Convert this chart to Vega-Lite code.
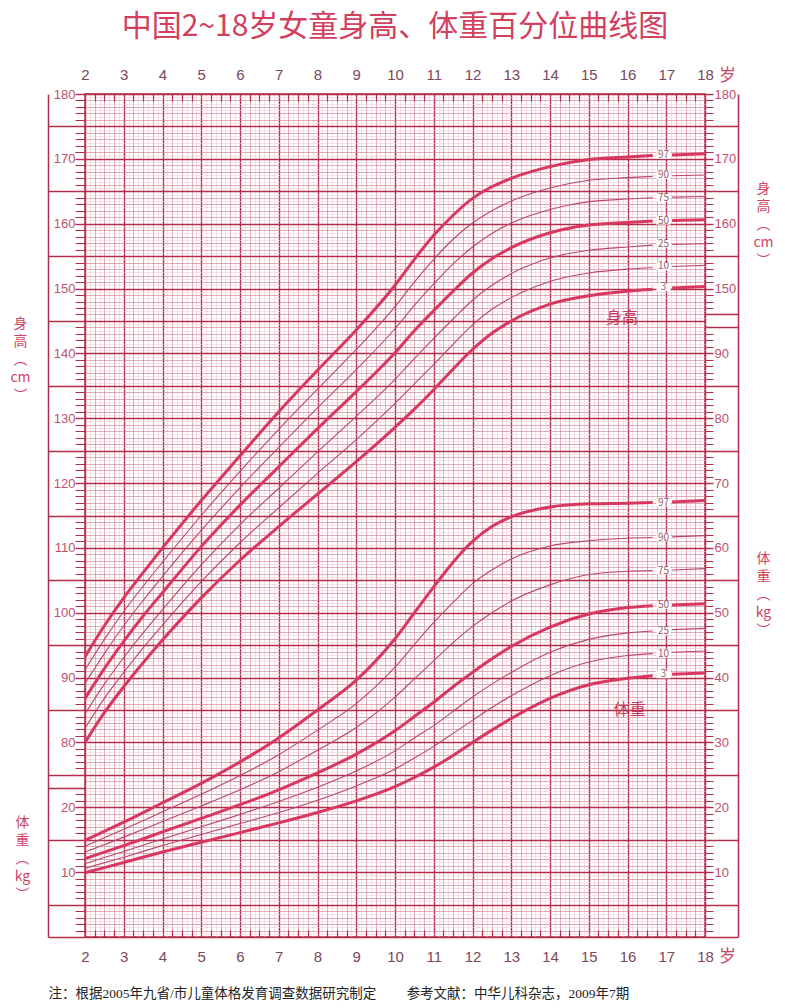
{
"$schema": "https://vega.github.io/schema/vega-lite/v6.json",
"width": 620, "height": 843,
"autosize": "none",
"padding": {"left": 85, "top": 94, "right": 80, "bottom": 71},
"background": "white",
"config": {"view": {"stroke": "#b42c4c", "strokeWidth": 1.5}, "axis": {"labelFont": "Liberation Sans", "titleFont": "Noto Sans CJK SC", "titleFontWeight": "normal"}},
"title": {"text": "中国2~18岁女童身高、体重百分位曲线图", "fontSize": 30, "font": "Noto Sans CJK SC", "fontWeight": "normal", "color": "#d2405e", "anchor": "middle", "frame": "group", "offset": 24},
"datasets": {
"hcurves": [
{"age":2,"seg":"a","P3":80.0,"P10":82.2,"P25":84.4,"P50":86.8,"P75":89.1,"P90":91.2,"P97":93.2},
{"age":2.5,"seg":"a","P3":84.6,"P10":86.8,"P25":89.0,"P50":91.4,"P75":93.7,"P90":95.9,"P97":98.0},
{"age":3,"seg":"a","P3":88.6,"P10":90.8,"P25":93.1,"P50":95.6,"P75":98.0,"P90":100.2,"P97":102.3},
{"age":3.5,"seg":"a","P3":92.3,"P10":94.6,"P25":96.9,"P50":99.5,"P75":101.9,"P90":104.1,"P97":106.2},
{"age":4,"seg":"a","P3":95.8,"P10":98.1,"P25":100.5,"P50":103.1,"P75":105.6,"P90":107.8,"P97":110.0},
{"age":5,"seg":"a","P3":102.3,"P10":104.8,"P25":107.4,"P50":110.2,"P75":112.7,"P90":115.0,"P97":117.3},
{"age":6,"seg":"a","P3":108.1,"P10":110.8,"P25":113.6,"P50":116.6,"P75":119.3,"P90":121.8,"P97":124.2},
{"age":7,"seg":"a","P3":113.3,"P10":116.2,"P25":119.2,"P50":122.5,"P75":125.5,"P90":128.3,"P97":131.0},
{"age":8,"seg":"a","P3":118.3,"P10":121.5,"P25":124.8,"P50":128.4,"P75":131.6,"P90":134.5,"P97":137.4},
{"age":9,"seg":"a","P3":123.3,"P10":126.7,"P25":130.3,"P50":134.1,"P75":137.5,"P90":140.6,"P97":143.6},
{"age":10,"seg":"a","P3":128.6,"P10":132.3,"P25":136.0,"P50":140.1,"P75":143.8,"P90":147.2,"P97":150.5},
{"age":10.5,"seg":"a","P3":131.4,"P10":135.3,"P25":139.2,"P50":143.5,"P75":147.4,"P90":151.0,"P97":154.5},
{"age":11,"seg":"a","P3":134.4,"P10":138.3,"P25":142.3,"P50":146.6,"P75":150.7,"P90":154.5,"P97":158.2},
{"age":11.5,"seg":"a","P3":137.6,"P10":141.4,"P25":145.3,"P50":149.6,"P75":153.8,"P90":157.6,"P97":161.3},
{"age":12,"seg":"a","P3":140.6,"P10":144.4,"P25":148.2,"P50":152.4,"P75":156.4,"P90":160.1,"P97":163.9},
{"age":12.5,"seg":"a","P3":143.1,"P10":146.8,"P25":150.5,"P50":154.6,"P75":158.5,"P90":162.0,"P97":165.7},
{"age":13,"seg":"a","P3":145.0,"P10":148.6,"P25":152.3,"P50":156.3,"P75":160.1,"P90":163.5,"P97":167.0},
{"age":14,"seg":"a","P3":147.6,"P10":151.1,"P25":154.7,"P50":158.6,"P75":162.2,"P90":165.5,"P97":168.8},
{"age":15,"seg":"a","P3":148.9,"P10":152.4,"P25":155.9,"P50":159.8,"P75":163.4,"P90":166.7,"P97":169.9},
{"age":16,"seg":"a","P3":149.6,"P10":153.0,"P25":156.4,"P50":160.2,"P75":163.8,"P90":167.1,"P97":170.3},
{"age":16.65,"seg":"a","P3":149.9,"P10":153.2,"P25":156.7,"P50":160.4,"P75":164.0,"P90":167.3,"P97":170.5},
{"age":17.15,"seg":"b","P3":150.1,"P10":153.4,"P25":156.8,"P50":160.5,"P75":164.1,"P90":167.4,"P97":170.6},
{"age":18,"seg":"b","P3":150.3,"P10":153.6,"P25":156.9,"P50":160.6,"P75":164.2,"P90":167.5,"P97":170.8}
],
"wcurves": [
{"age":2,"seg":"a","P3":9.9,"P10":10.6,"P25":11.3,"P50":12.1,"P75":13.1,"P90":14.0,"P97":14.9},
{"age":3,"seg":"a","P3":11.5,"P10":12.3,"P25":13.2,"P50":14.1,"P75":15.4,"P90":16.6,"P97":17.7},
{"age":4,"seg":"a","P3":13.1,"P10":14.1,"P25":15.1,"P50":16.2,"P75":17.8,"P90":19.3,"P97":20.7},
{"age":5,"seg":"a","P3":14.6,"P10":15.8,"P25":17.0,"P50":18.3,"P75":20.2,"P90":22.0,"P97":23.7},
{"age":6,"seg":"a","P3":16.1,"P10":17.5,"P25":18.9,"P50":20.4,"P75":22.7,"P90":24.9,"P97":27.0},
{"age":7,"seg":"a","P3":17.6,"P10":19.2,"P25":20.9,"P50":22.7,"P75":25.5,"P90":28.1,"P97":30.7},
{"age":8,"seg":"a","P3":19.2,"P10":21.1,"P25":23.1,"P50":25.3,"P75":28.8,"P90":31.9,"P97":35.0},
{"age":9,"seg":"a","P3":21.0,"P10":23.3,"P25":25.6,"P50":28.2,"P75":32.3,"P90":36.0,"P97":39.6},
{"age":10,"seg":"a","P3":23.2,"P10":25.9,"P25":28.7,"P50":31.8,"P75":37.0,"P90":41.6,"P97":46.0},
{"age":10.5,"seg":"a","P3":24.6,"P10":27.6,"P25":30.7,"P50":34.0,"P75":39.8,"P90":45.1,"P97":50.0},
{"age":11,"seg":"a","P3":26.2,"P10":29.4,"P25":32.6,"P50":36.2,"P75":42.6,"P90":48.5,"P97":54.0},
{"age":11.5,"seg":"a","P3":28.0,"P10":31.4,"P25":34.8,"P50":38.6,"P75":45.4,"P90":51.6,"P97":57.8},
{"age":12,"seg":"a","P3":30.0,"P10":33.4,"P25":37.0,"P50":40.8,"P75":47.9,"P90":54.5,"P97":61.0},
{"age":12.5,"seg":"a","P3":31.9,"P10":35.4,"P25":39.0,"P50":42.9,"P75":50.0,"P90":56.6,"P97":63.3},
{"age":13,"seg":"a","P3":33.7,"P10":37.2,"P25":40.8,"P50":44.8,"P75":51.8,"P90":58.3,"P97":64.8},
{"age":14,"seg":"a","P3":36.8,"P10":40.3,"P25":43.9,"P50":47.8,"P75":54.3,"P90":60.3,"P97":66.3},
{"age":15,"seg":"a","P3":38.9,"P10":42.4,"P25":45.9,"P50":49.8,"P75":55.9,"P90":61.1,"P97":66.8},
{"age":16,"seg":"a","P3":39.9,"P10":43.4,"P25":46.9,"P50":50.8,"P75":56.4,"P90":61.5,"P97":66.9},
{"age":16.65,"seg":"a","P3":40.3,"P10":43.7,"P25":47.2,"P50":51.1,"P75":56.5,"P90":61.6,"P97":67.0},
{"age":17.15,"seg":"b","P3":40.5,"P10":43.9,"P25":47.4,"P50":51.2,"P75":56.6,"P90":61.7,"P97":67.1},
{"age":18,"seg":"b","P3":40.7,"P10":44.1,"P25":47.6,"P50":51.4,"P75":56.8,"P90":61.9,"P97":67.3}
],
"hlabels": [
{"age":16.93,"v":170.6,"t":"97","kind":"pct"},
{"age":16.93,"v":167.5,"t":"90","kind":"pct"},
{"age":16.93,"v":164.0,"t":"75","kind":"pct"},
{"age":16.93,"v":160.45,"t":"50","kind":"pct"},
{"age":16.93,"v":156.9,"t":"25","kind":"pct"},
{"age":16.93,"v":153.4,"t":"10","kind":"pct"},
{"age":16.93,"v":150.2,"t":"3","kind":"pct"},
{"age":15.86,"v":145.5,"t":"身高","kind":"name"}
],
"wlabels": [
{"age":16.93,"v":67.0,"t":"97","kind":"pct"},
{"age":16.93,"v":61.6,"t":"90","kind":"pct"},
{"age":16.93,"v":56.5,"t":"75","kind":"pct"},
{"age":16.93,"v":51.2,"t":"50","kind":"pct"},
{"age":16.93,"v":47.2,"t":"25","kind":"pct"},
{"age":16.93,"v":43.7,"t":"10","kind":"pct"},
{"age":16.93,"v":40.5,"t":"3","kind":"pct"},
{"age":16.06,"v":35.0,"t":"体重","kind":"name"}
]
},
"resolve": {"scale": {"y": "independent"}, "axis": {"x": "independent", "y": "independent"}},
"layer": [
{
"data": {"name": "hcurves"},
"transform": [{"fold": ["P3","P10","P25","P50","P75","P90","P97"], "as": ["pct","v"]}],
"mark": {"type": "line", "interpolate": "monotone"},
"encoding": {
"x": {"field": "age", "type": "quantitative", "scale": {"domain": [2,18], "nice": false, "zero": false},
"axis": {"orient": "bottom", "values": [2,2.125,2.25,2.375,2.5,2.625,2.75,2.875,3,3.125,3.25,3.375,3.5,3.625,3.75,3.875,4,4.125,4.25,4.375,4.5,4.625,4.75,4.875,5,5.125,5.25,5.375,5.5,5.625,5.75,5.875,6,6.125,6.25,6.375,6.5,6.625,6.75,6.875,7,7.125,7.25,7.375,7.5,7.625,7.75,7.875,8,8.125,8.25,8.375,8.5,8.625,8.75,8.875,9,9.125,9.25,9.375,9.5,9.625,9.75,9.875,10,10.125,10.25,10.375,10.5,10.625,10.75,10.875,11,11.125,11.25,11.375,11.5,11.625,11.75,11.875,12,12.125,12.25,12.375,12.5,12.625,12.75,12.875,13,13.125,13.25,13.375,13.5,13.625,13.75,13.875,14,14.125,14.25,14.375,14.5,14.625,14.75,14.875,15,15.125,15.25,15.375,15.5,15.625,15.75,15.875,16,16.125,16.25,16.375,16.5,16.625,16.75,16.875,17,17.125,17.25,17.375,17.5,17.625,17.75,17.875,18],
"grid": true,
"gridColor": {"condition": [{"test": "datum.value % 1 === 0", "value": "#b42c4c"}, {"test": "datum.value % 0.25 === 0", "value": "#cc8299"}], "value": "#f6ccd8"},
"gridWidth": {"condition": [{"test": "datum.value % 1 === 0", "value": 1.4}, {"test": "datum.value % 0.25 === 0", "value": 0.65}], "value": 0.6},
"domain": false,
"tickSize": {"condition": {"test": "datum.value % 0.25 !== 0 || datum.value % 1 === 0", "value": 0}, "value": -7},
"tickColor": "#b42c4c", "tickWidth": 1.2,
"labelExpr": "datum.value % 1 === 0 ? format(datum.value, 'd') : ''",
"labelPadding": 12, "labelFontSize": 15, "labelColor": "#7a4658", "labelOverlap": false, "labelFlush": false, "labelBound": false,
"title": "岁", "titleX": 642, "titleY": 19, "titleFontSize": 17, "titleColor": "#d04565", "titleAlign": "center", "titleBaseline": "middle"}},
"y": {"field": "v", "type": "quantitative", "scale": {"domain": [50,180], "nice": false, "zero": false},
"axis": {"orient": "left", "values": [50,50.5,51,51.5,52,52.5,53,53.5,54,54.5,55,55.5,56,56.5,57,57.5,58,58.5,59,59.5,60,60.5,61,61.5,62,62.5,63,63.5,64,64.5,65,65.5,66,66.5,67,67.5,68,68.5,69,69.5,70,70.5,71,71.5,72,72.5,73,73.5,74,74.5,75,75.5,76,76.5,77,77.5,78,78.5,79,79.5,80,80.5,81,81.5,82,82.5,83,83.5,84,84.5,85,85.5,86,86.5,87,87.5,88,88.5,89,89.5,90,90.5,91,91.5,92,92.5,93,93.5,94,94.5,95,95.5,96,96.5,97,97.5,98,98.5,99,99.5,100,100.5,101,101.5,102,102.5,103,103.5,104,104.5,105,105.5,106,106.5,107,107.5,108,108.5,109,109.5,110,110.5,111,111.5,112,112.5,113,113.5,114,114.5,115,115.5,116,116.5,117,117.5,118,118.5,119,119.5,120,120.5,121,121.5,122,122.5,123,123.5,124,124.5,125,125.5,126,126.5,127,127.5,128,128.5,129,129.5,130,130.5,131,131.5,132,132.5,133,133.5,134,134.5,135,135.5,136,136.5,137,137.5,138,138.5,139,139.5,140,140.5,141,141.5,142,142.5,143,143.5,144,144.5,145,145.5,146,146.5,147,147.5,148,148.5,149,149.5,150,150.5,151,151.5,152,152.5,153,153.5,154,154.5,155,155.5,156,156.5,157,157.5,158,158.5,159,159.5,160,160.5,161,161.5,162,162.5,163,163.5,164,164.5,165,165.5,166,166.5,167,167.5,168,168.5,169,169.5,170,170.5,171,171.5,172,172.5,173,173.5,174,174.5,175,175.5,176,176.5,177,177.5,178,178.5,179,179.5,180],
"grid": true,
"gridColor": {"condition": [{"test": "datum.value % 5 === 0", "value": "#b42c4c"}, {"test": "datum.value % 1 === 0", "value": "#cc8299"}], "value": "#f6ccd8"},
"gridWidth": {"condition": [{"test": "datum.value % 5 === 0", "value": 1.4}, {"test": "datum.value % 1 === 0", "value": 0.65}], "value": 0.6},
"domain": false,
"tickSize": {"condition": [{"test": "datum.value % 1 !== 0 || datum.value === 74", "value": 0}, {"test": "datum.value === 50 || datum.value === 73 || (datum.value % 5 === 0 && datum.value % 10 !== 0)", "value": 37}], "value": 10},
"tickColor": "#b42c4c",
"tickWidth": {"condition": {"test": "datum.value % 5 === 0 || datum.value === 73", "value": 1.4}, "value": 1},
"labelExpr": "datum.value % 10 !== 0 ? '' : datum.value >= 80 ? '' + datum.value : (datum.value === 60 || datum.value === 70) ? '' + (datum.value - 50) : ''",
"labelPadding": 0, "labelFontSize": 13, "labelColor": "#c0506e", "labelOverlap": false, "labelFlush": false, "labelBound": false,
"title": ["身","高","︵","cm","︶"], "titleX": -65, "titleY": 222, "titleAngle": 0, "titleAlign": "center", "titleBaseline": "top", "titleFontSize": 14, "titleColor": "#d04565", "titleLineHeight": 18}},
"detail": [{"field": "pct"}, {"field": "seg"}],
"strokeWidth": {"condition": {"test": "datum.pct === 'P3' || datum.pct === 'P50' || datum.pct === 'P97'", "value": 3}, "value": 1.1},
"color": {"condition": {"test": "datum.pct === 'P3' || datum.pct === 'P50' || datum.pct === 'P97'", "value": "#d8385f"}, "value": "#b8476c"}
}
},
{
"data": {"name": "wcurves"},
"transform": [{"fold": ["P3","P10","P25","P50","P75","P90","P97"], "as": ["pct","v"]}],
"mark": {"type": "line", "interpolate": "monotone"},
"encoding": {
"x": {"field": "age", "type": "quantitative", "scale": {"domain": [2,18], "nice": false, "zero": false},
"axis": {"orient": "top", "values": [2,2.25,2.5,2.75,3,3.25,3.5,3.75,4,4.25,4.5,4.75,5,5.25,5.5,5.75,6,6.25,6.5,6.75,7,7.25,7.5,7.75,8,8.25,8.5,8.75,9,9.25,9.5,9.75,10,10.25,10.5,10.75,11,11.25,11.5,11.75,12,12.25,12.5,12.75,13,13.25,13.5,13.75,14,14.25,14.5,14.75,15,15.25,15.5,15.75,16,16.25,16.5,16.75,17,17.25,17.5,17.75,18],
"grid": false, "domain": false,
"tickSize": {"condition": {"test": "datum.value % 1 === 0", "value": 0}, "value": -7},
"tickColor": "#b42c4c", "tickWidth": 1.2,
"labelExpr": "datum.value % 1 === 0 ? format(datum.value, 'd') : ''",
"labelPadding": 12, "labelFontSize": 15, "labelColor": "#7a4658", "labelOverlap": false, "labelFlush": false, "labelBound": false,
"title": "岁", "titleX": 642, "titleY": -19, "titleFontSize": 17, "titleColor": "#d04565", "titleAlign": "center", "titleBaseline": "middle"}},
"y": {"field": "v", "type": "quantitative", "scale": {"domain": [0,130], "nice": false, "zero": false},
"axis": {"orient": "right", "values": [0,1,2,3,4,5,6,7,8,9,10,11,12,13,14,15,16,17,18,19,20,21,22,23,24,25,26,27,28,29,30,31,32,33,34,35,36,37,38,39,40,41,42,43,44,45,46,47,48,49,50,51,52,53,54,55,56,57,58,59,60,61,62,63,64,65,66,67,68,69,70,71,72,73,74,75,76,77,78,79,80,81,82,83,84,85,86,87,88,89,90,91,92,93,94,95,96,97,98,99,100,101,102,103,104,105,106,107,108,109,110,111,112,113,114,115,116,117,118,119,120,121,122,123,124,125,126,127,128,129,130],
"grid": false, "domain": false,
"tickSize": {"condition": [{"test": "datum.value === 95", "value": 0}, {"test": "datum.value === 0 || datum.value === 94 || datum.value === 96 || (datum.value % 5 === 0 && datum.value % 10 !== 0)", "value": 33}], "value": 8},
"tickColor": "#b42c4c",
"tickWidth": {"condition": {"test": "datum.value % 5 === 0 || datum.value === 94 || datum.value === 96", "value": 1.4}, "value": 1},
"labelExpr": "datum.value === 0 || datum.value % 10 !== 0 ? '' : datum.value <= 90 ? '' + datum.value : datum.value >= 100 ? '' + (datum.value + 50) : ''",
"labelPadding": 1, "labelFontSize": 13, "labelColor": "#c0506e", "labelOverlap": false, "labelFlush": false, "labelBound": false,
"title": ["体","重","︵","kg","︶"], "titleX": 58, "titleY": 457, "titleAngle": 0, "titleAlign": "center", "titleBaseline": "top", "titleFontSize": 14, "titleColor": "#d04565", "titleLineHeight": 18}},
"detail": [{"field": "pct"}, {"field": "seg"}],
"strokeWidth": {"condition": {"test": "datum.pct === 'P3' || datum.pct === 'P50' || datum.pct === 'P97'", "value": 3}, "value": 1.1},
"color": {"condition": {"test": "datum.pct === 'P3' || datum.pct === 'P50' || datum.pct === 'P97'", "value": "#d8385f"}, "value": "#b8476c"}
}
},
{
"data": {"name": "hlabels"},
"encoding": {
"x": {"field": "age", "type": "quantitative", "scale": {"domain": [2,18], "nice": false, "zero": false},
"axis": {"orient": "bottom", "labels": false, "ticks": false, "domain": false, "grid": false,
"title": "注：根据2005年九省/市儿童体格发育调查数据研究制定　　 参考文献：中华儿科杂志，2009年7期", "titleX": -37, "titleY": 56, "titleAlign": "left", "titleBaseline": "middle", "titleFontSize": 13.5, "titleColor": "#222222", "titleFont": "Liberation Serif, Noto Sans CJK SC"}},
"y": {"field": "v", "type": "quantitative", "scale": {"domain": [50,180], "nice": false, "zero": false},
"axis": {"orient": "left", "offset": 37, "labels": false, "ticks": false, "grid": false, "domain": true, "domainColor": "#b42c4c", "domainWidth": 1.5,
"title": ["体","重","︵","kg","︶"], "titleX": -26, "titleY": 721, "titleAngle": 0, "titleAlign": "center", "titleBaseline": "top", "titleFontSize": 14, "titleColor": "#d04565", "titleLineHeight": 18}}
},
"layer": [
{"transform": [{"filter": "datum.kind === 'pct'"}], "mark": {"type": "point", "shape": "M-1,-0.55H1V0.55H-1Z", "filled": true, "color": "white", "opacity": 1, "size": 200}},
{"mark": {"type": "text", "font": "Noto Sans CJK SC"},
"encoding": {"text": {"field": "t"},
"size": {"condition": {"test": "datum.kind === 'name'", "value": 16}, "value": 10},
"color": {"condition": {"test": "datum.kind === 'name'", "value": "#c8385a"}, "value": "#9a5a70"}}}
]
},
{
"data": {"name": "wlabels"},
"encoding": {
"x": {"field": "age", "type": "quantitative", "scale": {"domain": [2,18], "nice": false, "zero": false}, "axis": null},
"y": {"field": "v", "type": "quantitative", "scale": {"domain": [0,130], "nice": false, "zero": false},
"axis": {"orient": "right", "offset": 33, "labels": false, "ticks": false, "grid": false, "domain": true, "domainColor": "#b42c4c", "domainWidth": 1.5,
"title": ["身","高","︵","cm","︶"], "titleX": 25, "titleY": 87, "titleAngle": 0, "titleAlign": "center", "titleBaseline": "top", "titleFontSize": 14, "titleColor": "#d04565", "titleLineHeight": 18}}
},
"layer": [
{"transform": [{"filter": "datum.kind === 'pct'"}], "mark": {"type": "point", "shape": "M-1,-0.55H1V0.55H-1Z", "filled": true, "color": "white", "opacity": 1, "size": 200}},
{"mark": {"type": "text", "font": "Noto Sans CJK SC"},
"encoding": {"text": {"field": "t"},
"size": {"condition": {"test": "datum.kind === 'name'", "value": 16}, "value": 10},
"color": {"condition": {"test": "datum.kind === 'name'", "value": "#c8385a"}, "value": "#9a5a70"}}}
]
}
]
}
